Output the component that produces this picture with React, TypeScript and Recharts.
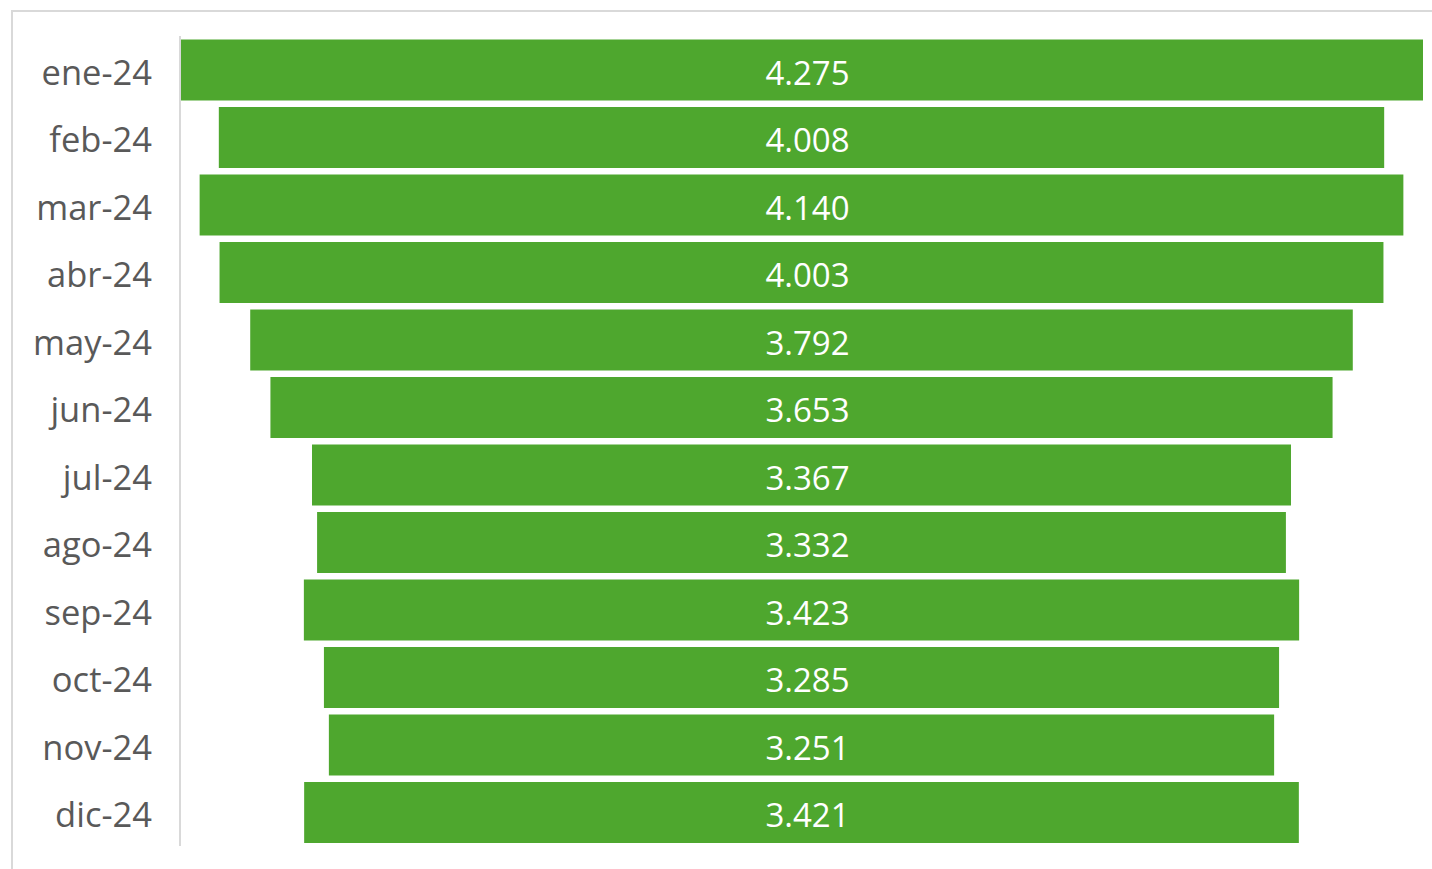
import React from "react";
import { BarChart, Bar, XAxis, YAxis, LabelList } from "recharts";

const months = [
  "ene-24", "feb-24", "mar-24", "abr-24", "may-24", "jun-24",
  "jul-24", "ago-24", "sep-24", "oct-24", "nov-24", "dic-24",
];

const values = [4275, 4008, 4140, 4003, 3792, 3653, 3367, 3332, 3423, 3285, 3251, 3421];

const maxValue = Math.max(...values);

// funnel: an invisible offset bar pushes each bar to the centre
const data = months.map((m, i) => ({
  month: m,
  offset: (maxValue - values[i]) / 2,
  value: values[i],
}));

const fmt = (v: number) => {
  const th = Math.floor(v / 1000);
  const rest = String(v % 1000).padStart(3, "0");
  return th > 0 ? `${th}.${rest}` : String(v);
};

const FONT = "'Open Sans', 'Noto Sans', sans-serif";

export default function App() {
  return (
    <div
      style={{
        position: "fixed",
        left: 0,
        top: 0,
        width: 1432,
        height: 869,
        overflow: "hidden",
        background: "#fff",
      }}
    >
      <div
        style={{
          position: "absolute",
          left: 11,
          top: 10,
          width: 1460,
          height: 900,
          border: "2px solid #d9d9d9",
          boxSizing: "border-box",
        }}
      />
      <div style={{ position: "absolute", left: 0, top: 0 }}>
        <BarChart
          width={1432}
          height={869}
          data={data}
          layout="vertical"
          margin={{ top: 36, right: 9, bottom: 23, left: 0 }}
          barCategoryGap="5%"
        >
          <XAxis type="number" hide domain={[0, maxValue]} />
          <YAxis
            type="category"
            dataKey="month"
            width={180}
            tickLine={false}
            tickMargin={22}
            axisLine={{ stroke: "#d9d9d9", strokeWidth: 2 }}
            tick={{ fill: "#595959", fontSize: 34.5, fontFamily: FONT, dy: 3 }}
          />
          <Bar dataKey="offset" stackId="f" fill="transparent" isAnimationActive={false} />
          <Bar dataKey="value" stackId="f" fill="#4ea72e" isAnimationActive={false}>
            <LabelList
              dataKey="value"
              position="center"
              dx={6}
              dy={3}
              formatter={(v: any) => fmt(Number(v))}
              style={{ fill: "#ffffff", fontSize: 33, fontFamily: FONT }}
            />
          </Bar>
        </BarChart>
      </div>
    </div>
  );
}
